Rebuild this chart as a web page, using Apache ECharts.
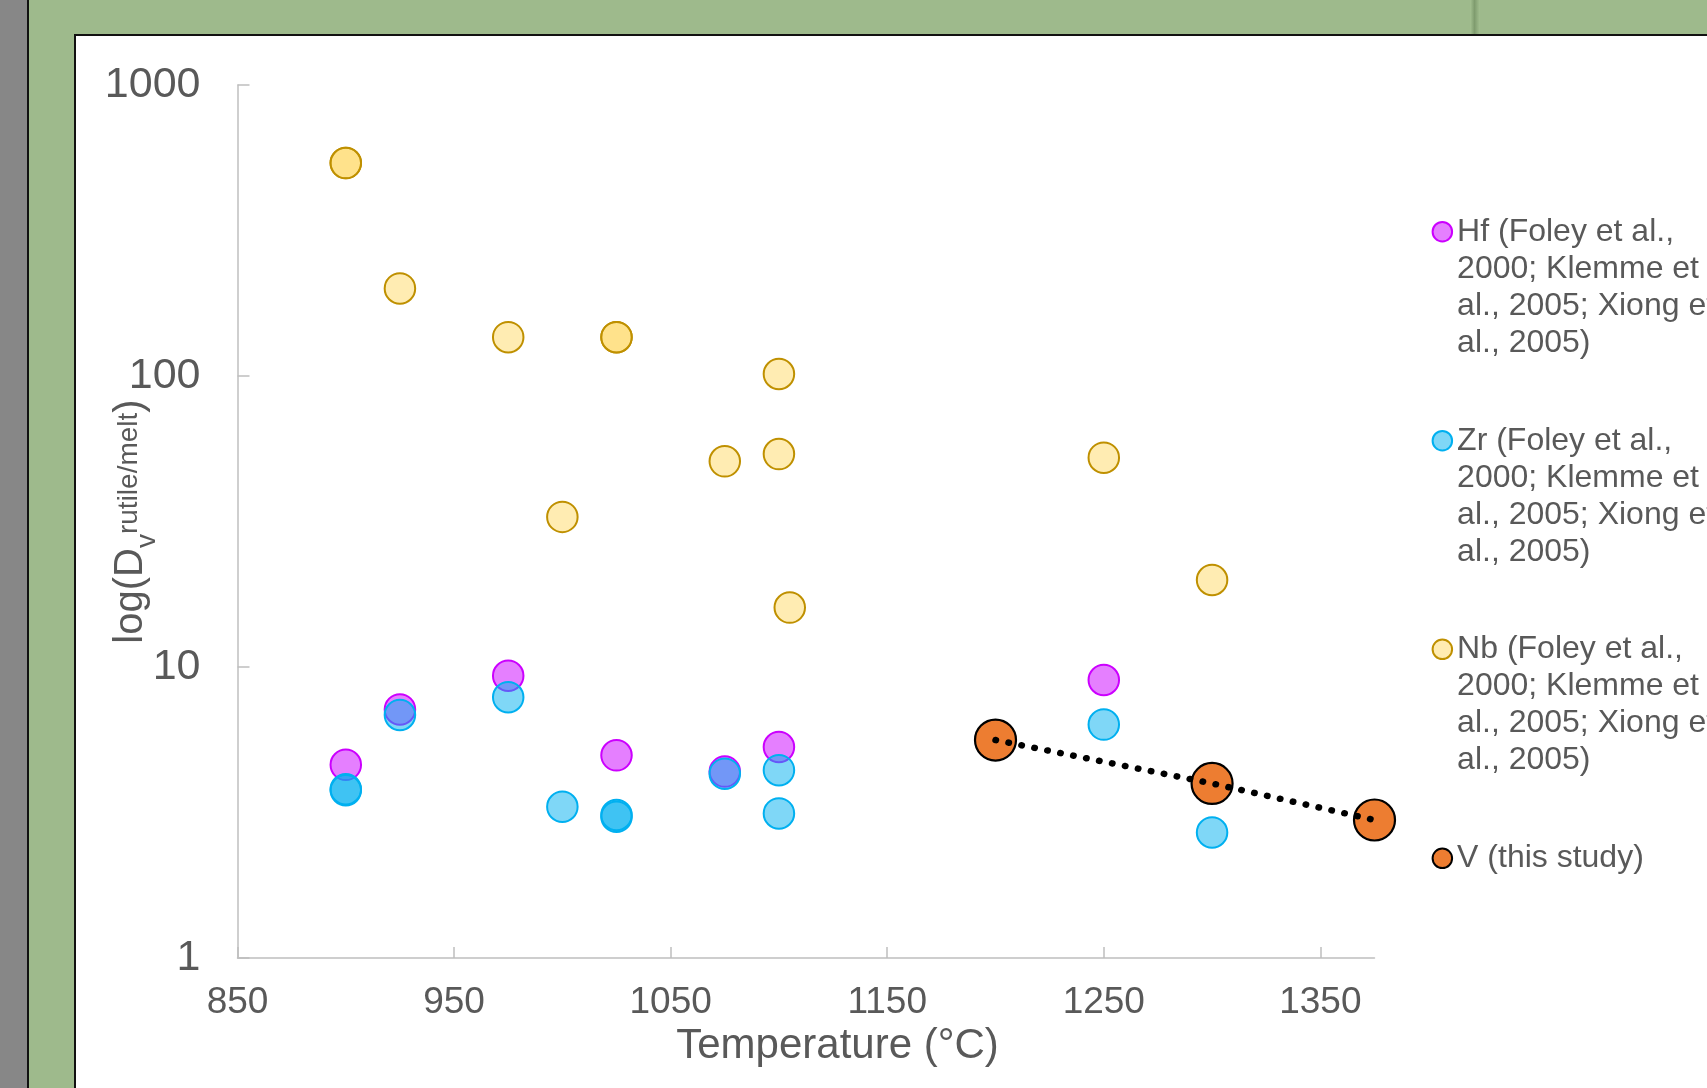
<!DOCTYPE html>
<html>
<head>
<meta charset="utf-8">
<title>Rutile/melt partition coefficients vs temperature</title>
<script src="https://cdn.jsdelivr.net/npm/echarts@6/dist/echarts.min.js"></script>
<style>
  html, body { margin: 0; padding: 0; width: 1707px; height: 1088px; overflow: hidden; background: #9eba8c; }
  #edge { position: absolute; left: 0; top: 0; width: 27px; height: 1088px; background: #878787; border-right: 2px solid #111; }
  #streak { position: absolute; left: 1470px; top: 0; width: 10px; height: 34px;
            background: linear-gradient(to right, rgba(170,200,150,0.5), rgba(90,120,75,0.45) 45%, rgba(170,200,150,0.4)); }
  #panel { position: absolute; left: 74px; top: 34px; width: 1700px; height: 1100px; background: #fff; border: 2px solid #111; box-sizing: border-box; }
  #chart { position: absolute; left: 0; top: 0; width: 1707px; height: 1088px; }
</style>
</head>
<body>
<div id="edge"></div>
<div id="streak"></div>
<div id="panel"></div>
<div id="chart"></div>
<script>
// Temperature (°C) and rutile/melt partition coefficients per element
const hfTemp = [900, 925, 975, 1025, 1075, 1100, 1250];
const hfD    = [4.61, 7.15, 9.33, 4.97, 4.37, 5.31, 9.02];

const zrTemp = [900, 900, 925, 975, 1000, 1025, 1025, 1075, 1100, 1100, 1250, 1300];
const zrD    = [3.77, 3.80, 6.84, 7.87, 3.31, 3.06, 3.10, 4.30, 4.42, 3.14, 6.34, 2.70];

const nbTemp = [900, 900, 925, 975, 1000, 1025, 1025, 1075, 1100, 1100, 1105, 1250, 1300];
const nbD    = [539, 539, 200, 136, 32.8, 136, 136, 50.9, 101.6, 53.9, 16.0, 52.4, 19.9];

const vTemp  = [1200, 1300, 1375];
const vD     = [5.61, 3.98, 2.98];

// Axis ticks
const xTicks = [850, 950, 1050, 1150, 1250, 1350];
const yTicks = [1, 10, 100, 1000];

// Legend entries
const seriesNames  = ['Hf', 'Zr', 'Nb', 'V'];
const legendLabels = [
  'Hf (Foley et al.,\n2000; Klemme et\nal., 2005; Xiong et\nal., 2005)',
  'Zr (Foley et al.,\n2000; Klemme et\nal., 2005; Xiong et\nal., 2005)',
  'Nb (Foley et al.,\n2000; Klemme et\nal., 2005; Xiong et\nal., 2005)',
  'V (this study)'
];

const FONT = '"Liberation Sans", Arial, Helvetica, sans-serif';
const TEXT = '#595959';
const AXIS = '#bfbfbf';

function pairs(xs, ys) { return xs.map((x, i) => [x, ys[i]]); }
const labelOf = {};
seriesNames.forEach((n, i) => { labelOf[n] = legendLabels[i]; });

// Legend text is centred on its marker; leading blank lines put the
// marker beside the first line of a multi-line entry.
function legendText(n) {
  const text = labelOf[n];
  const extra = text.split('\n').length - 1;
  return '\n'.repeat(extra) + text;
}

function legendBlock(name, top) {
  return {
    data: [name],
    orient: 'vertical',
    left: 1431.6,
    top: top,
    padding: 0,
    itemWidth: 19.5,
    itemHeight: 19.5,
    selectedMode: false,
    formatter: legendText,
    textStyle: { fontFamily: FONT, fontSize: 32, lineHeight: 37, color: TEXT }
  };
}

const chart = echarts.init(document.getElementById('chart'), null, { renderer: 'canvas' });

chart.setOption({
  animation: false,
  backgroundColor: 'transparent',
  textStyle: { fontFamily: FONT },
  grid: { left: 237.5, top: 85, width: 1137, height: 873, containLabel: false, outerBoundsMode: 'none' },
  xAxis: {
    type: 'value',
    min: 850,
    max: 1375,
    axisLine: { show: true, onZero: false, lineStyle: { color: AXIS, width: 1.5 } },
    axisTick: { show: true, inside: true, length: 11, customValues: xTicks, lineStyle: { color: AXIS, width: 1.5 } },
    axisLabel: { customValues: xTicks, fontSize: 37, color: TEXT, margin: 26, fontFamily: FONT, formatter: v => String(v) },
    splitLine: { show: false },
    name: 'Temperature (°C)',
    nameLocation: 'middle',
    nameGap: 67,
    nameMoveOverlap: false,
    nameTextStyle: { fontSize: 42, color: TEXT, fontFamily: FONT, padding: [0, 0, 0, 63] }
  },
  yAxis: {
    type: 'log',
    logBase: 10,
    min: 1,
    max: 1000,
    axisLine: { show: true, onZero: false, lineStyle: { color: AXIS, width: 1.5 } },
    axisTick: { show: true, inside: true, length: 12, customValues: yTicks, lineStyle: { color: AXIS, width: 1.5 } },
    minorTick: { show: false },
    axisLabel: { customValues: yTicks, fontSize: 43, color: TEXT, margin: 37, fontFamily: FONT, formatter: v => String(Math.round(v)) },
    splitLine: { show: false },
    name: '{m|log(D}{s|v}{p|rutile/melt}{m|)}',
    nameLocation: 'middle',
    nameRotate: 90,
    nameGap: 76,
    nameMoveOverlap: false,
    nameTextStyle: {
      color: TEXT,
      fontFamily: FONT,
      rich: {
        m: { fontSize: 40, color: TEXT, fontFamily: FONT, verticalAlign: 'middle' },
        s: { fontSize: 28, color: TEXT, fontFamily: FONT, verticalAlign: 'middle', padding: [34, 0, 0, 0] },
        p: { fontSize: 28, color: TEXT, fontFamily: FONT, verticalAlign: 'middle', padding: [0, 0, 3, 0] }
      }
    }
  },
  legend: [
    legendBlock('Hf', 102.2),
    legendBlock('Zr', 311.2),
    legendBlock('Nb', 519.8),
    legendBlock('V', 839.8)
  ],
  series: [
    {
      name: 'Hf', type: 'scatter', data: pairs(hfTemp, hfD), symbol: 'circle', symbolSize: 30.5, z: 2,
      itemStyle: { color: 'rgba(204,0,255,0.5)', borderColor: '#cc00ff', borderWidth: 2, opacity: 1 },
      emphasis: { disabled: true }
    },
    {
      name: 'Zr', type: 'scatter', data: pairs(zrTemp, zrD), symbol: 'circle', symbolSize: 30.5, z: 3,
      itemStyle: { color: 'rgba(0,176,240,0.5)', borderColor: '#00b0f0', borderWidth: 2, opacity: 1 },
      emphasis: { disabled: true }
    },
    {
      name: 'Nb', type: 'scatter', data: pairs(nbTemp, nbD), symbol: 'circle', symbolSize: 30.5, z: 4,
      itemStyle: { color: 'rgba(255,217,102,0.5)', borderColor: '#bf9000', borderWidth: 2, opacity: 1 },
      emphasis: { disabled: true }
    },
    {
      name: 'V', type: 'scatter', data: pairs(vTemp, vD), symbol: 'circle', symbolSize: 41, z: 5,
      itemStyle: { color: '#ed7d31', borderColor: '#000', borderWidth: 2.2, opacity: 1 },
      emphasis: { disabled: true }
    },
    {
      // dotted connector drawn over the V markers
      name: 'V', type: 'line', data: pairs(vTemp, vD), showSymbol: false, symbol: 'none', z: 6, silent: true,
      lineStyle: { color: '#000', width: 6.5, type: [0.5, 12.7], cap: 'round' },
      emphasis: { disabled: true }
    }
  ]
});
</script>
</body>
</html>
